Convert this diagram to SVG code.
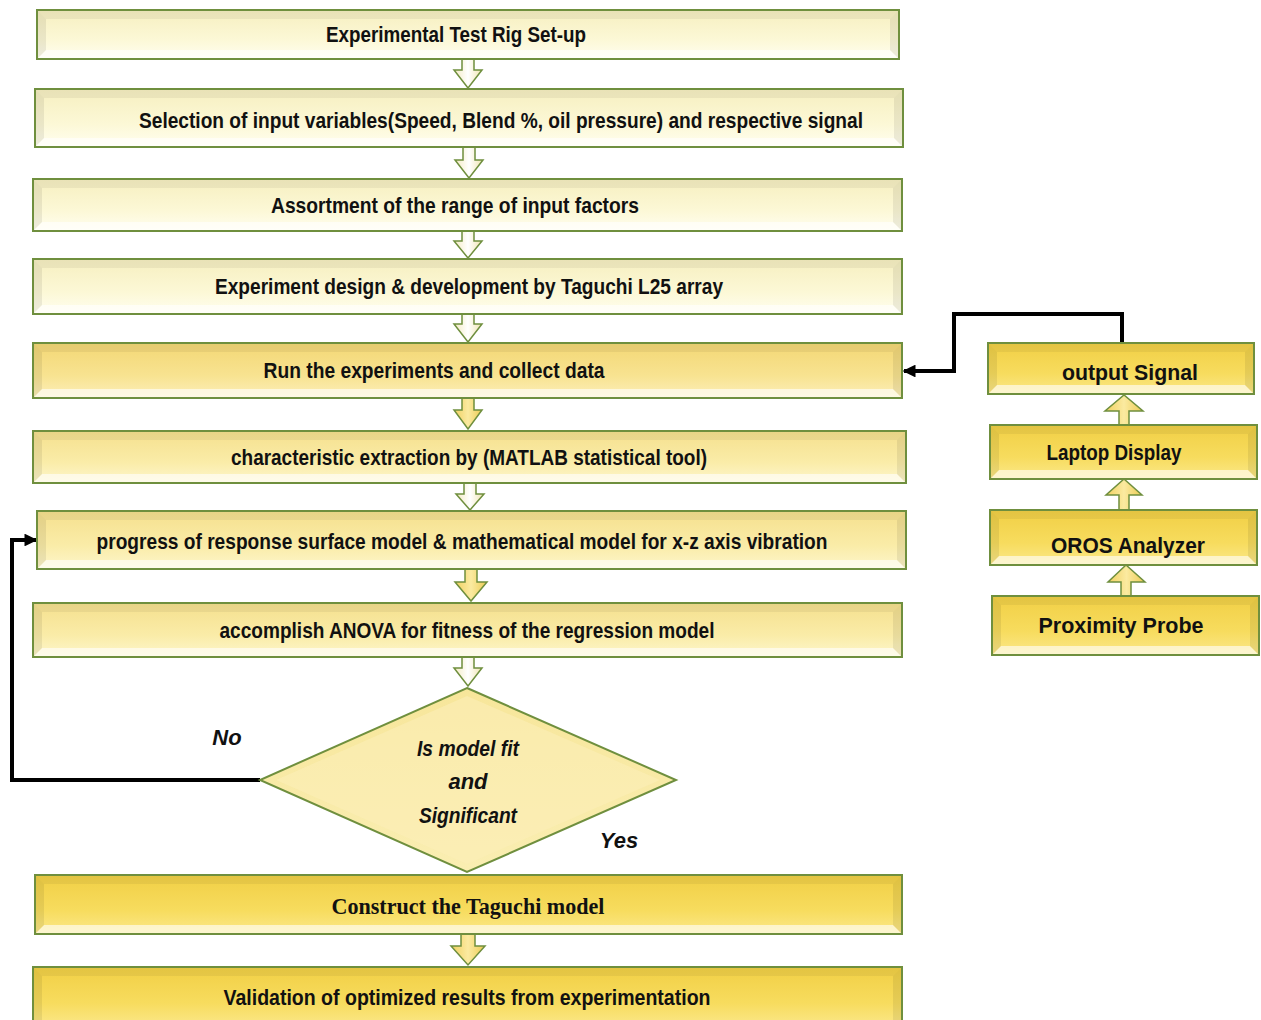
<svg xmlns="http://www.w3.org/2000/svg" width="1261" height="1020" viewBox="0 0 1261 1020">
<defs>
<linearGradient id="gPale" x1="0" y1="0" x2="0" y2="1"><stop offset="0" stop-color="#f6efc0"/><stop offset="0.6" stop-color="#fcf8d6"/><stop offset="1" stop-color="#fffef0"/></linearGradient>
<linearGradient id="gMed" x1="0" y1="0" x2="0" y2="1"><stop offset="0" stop-color="#f5e08e"/><stop offset="0.6" stop-color="#faeca8"/><stop offset="1" stop-color="#fdf6cc"/></linearGradient>
<linearGradient id="gRun" x1="0" y1="0" x2="0" y2="1"><stop offset="0" stop-color="#f3d775"/><stop offset="0.6" stop-color="#f8e391"/><stop offset="1" stop-color="#fcefba"/></linearGradient>
<linearGradient id="gGold" x1="0" y1="0" x2="0" y2="1"><stop offset="0" stop-color="#f1cf45"/><stop offset="0.6" stop-color="#f7dc5e"/><stop offset="1" stop-color="#fbe88a"/></linearGradient>
<linearGradient id="gDia" x1="0" y1="0" x2="0" y2="1"><stop offset="0" stop-color="#f7e69a"/><stop offset="1" stop-color="#faeeb2"/></linearGradient>
<linearGradient id="gArrP" x1="0" y1="0" x2="1" y2="0"><stop offset="0" stop-color="#f3eac0"/><stop offset="0.5" stop-color="#ffffff"/><stop offset="1" stop-color="#f0e4b0"/></linearGradient>
<linearGradient id="gArrG" x1="0" y1="0" x2="1" y2="0"><stop offset="0" stop-color="#f0d060"/><stop offset="0.5" stop-color="#fbeaa0"/><stop offset="1" stop-color="#eccb55"/></linearGradient>
<marker id="ah" viewBox="0 0 10 10" refX="9" refY="5" markerWidth="3.2" markerHeight="3.2" orient="auto" markerUnits="strokeWidth"><path d="M0,0 L10,5 L0,10 z" fill="#000"/></marker>
</defs>
<style>
.box{stroke:#6f8f3e;stroke-width:2}
.bt{fill:#000;opacity:0.05}
.bb{fill:#fff;opacity:0.6}
.bs{fill:#000;opacity:0.07}
.t{font-family:"Liberation Sans Narrow","Liberation Sans",Arial,sans-serif;font-weight:bold;font-size:22px;fill:#111;text-anchor:middle}
.ts{font-family:"Liberation Serif","Times New Roman",serif;font-weight:bold;font-size:24px;fill:#111;text-anchor:middle}
.ti{font-family:"Liberation Sans Narrow","Liberation Sans",Arial,sans-serif;font-weight:bold;font-style:italic;font-size:22px;fill:#111;text-anchor:middle}
.arr{stroke:#6f8f3e;stroke-width:1.5}
.conn{fill:none;stroke:#000;stroke-width:4}
</style>
<rect width="1261" height="1020" fill="#fff"/>

<g id="connectors">
<path class="arr" fill="url(#gArrP)" d="M462,59 H474 V70 H482 L468,88 L454,70 H462 Z"/>
<path class="arr" fill="url(#gArrP)" d="M463,147 H475 V160 H483 L469,178 L455,160 H463 Z"/>
<path class="arr" fill="url(#gArrP)" d="M462,231 H474 V241 H482 L468,258 L454,241 H462 Z"/>
<path class="arr" fill="url(#gArrP)" d="M462,314 H474 V324 H482 L468,342 L454,324 H462 Z"/>
<path class="arr" fill="url(#gArrG)" d="M462,398 H474 V410 H482 L468,429 L454,410 H462 Z"/>
<path class="arr" fill="url(#gArrP)" d="M464,483 H476 V494 H484 L470,510 L456,494 H464 Z"/>
<path class="arr" fill="url(#gArrG)" d="M465,569 H477 V582 H487 L471,601 L455,582 H465 Z"/>
<path class="arr" fill="url(#gArrP)" d="M462,657 H474 V668 H482 L468,686 L454,668 H462 Z"/>
<path class="arr" fill="url(#gArrG)" d="M461,934 H475 V946 H485 L468,965 L451,946 H461 Z"/>
<path class="arr" fill="url(#gArrG)" d="M1119,425 V411 H1105 L1124,395 L1143,411 H1129 V425 Z"/>
<path class="arr" fill="url(#gArrG)" d="M1119,510 V495 H1106 L1124,479 L1142,495 H1129 V510 Z"/>
<path class="arr" fill="url(#gArrG)" d="M1121,596 V582 H1108 L1126,565 L1145,582 H1131 V596 Z"/>
<path class="conn" d="M1122,343 V314 H954 V371 H904" marker-end="url(#ah)"/>
<path class="conn" d="M260,780 H12 V540 H36" marker-end="url(#ah)"/>
</g>

<g id="n1">
<rect class="box" x="37" y="10" width="862" height="49" fill="url(#gPale)"/>
<polygon class="bt" points="38,11 898,11 890,19 46,19"/><polygon class="bb" points="38,58 898,58 890,50 46,50"/><polygon class="bs" points="38,11 46,19 46,50 38,58"/><polygon class="bs" points="898,11 890,19 890,50 898,58"/>
<text class="t" x="456" y="42" textLength="260" lengthAdjust="spacingAndGlyphs">Experimental Test Rig Set-up</text>
</g>
<g id="n2">
<rect class="box" x="35" y="89" width="868" height="58" fill="url(#gPale)"/>
<polygon class="bt" points="36,90 902,90 894,98 44,98"/><polygon class="bb" points="36,146 902,146 894,138 44,138"/><polygon class="bs" points="36,90 44,98 44,138 36,146"/><polygon class="bs" points="902,90 894,98 894,138 902,146"/>
<text class="t" x="501" y="128" textLength="724" lengthAdjust="spacingAndGlyphs">Selection of input variables(Speed, Blend %, oil pressure) and respective  signal</text>
</g>
<g id="n3">
<rect class="box" x="33" y="179" width="869" height="52" fill="url(#gPale)"/>
<polygon class="bt" points="34,180 901,180 893,188 42,188"/><polygon class="bb" points="34,230 901,230 893,222 42,222"/><polygon class="bs" points="34,180 42,188 42,222 34,230"/><polygon class="bs" points="901,180 893,188 893,222 901,230"/>
<text class="t" x="455" y="213" textLength="368" lengthAdjust="spacingAndGlyphs">Assortment of the range of input factors</text>
</g>
<g id="n4">
<rect class="box" x="33" y="259" width="869" height="55" fill="url(#gPale)"/>
<polygon class="bt" points="34,260 901,260 893,268 42,268"/><polygon class="bb" points="34,313 901,313 893,305 42,305"/><polygon class="bs" points="34,260 42,268 42,305 34,313"/><polygon class="bs" points="901,260 893,268 893,305 901,313"/>
<text class="t" x="469" y="294" textLength="508" lengthAdjust="spacingAndGlyphs">Experiment design &amp; development by Taguchi L25 array</text>
</g>
<g id="n5">
<rect class="box" x="33" y="343" width="869" height="55" fill="url(#gRun)"/>
<polygon class="bt" points="34,344 901,344 893,352 42,352"/><polygon class="bb" points="34,397 901,397 893,389 42,389"/><polygon class="bs" points="34,344 42,352 42,389 34,397"/><polygon class="bs" points="901,344 893,352 893,389 901,397"/>
<text class="t" x="434" y="378" textLength="341" lengthAdjust="spacingAndGlyphs">Run the experiments and collect data</text>
</g>
<g id="n6">
<rect class="box" x="33" y="431" width="873" height="52" fill="url(#gMed)"/>
<polygon class="bt" points="34,432 905,432 897,440 42,440"/><polygon class="bb" points="34,482 905,482 897,474 42,474"/><polygon class="bs" points="34,432 42,440 42,474 34,482"/><polygon class="bs" points="905,432 897,440 897,474 905,482"/>
<text class="t" x="469" y="465" textLength="476" lengthAdjust="spacingAndGlyphs">characteristic extraction by (MATLAB statistical tool)</text>
</g>
<g id="n7">
<rect class="box" x="37" y="511" width="869" height="58" fill="url(#gMed)"/>
<polygon class="bt" points="38,512 905,512 897,520 46,520"/><polygon class="bb" points="38,568 905,568 897,560 46,560"/><polygon class="bs" points="38,512 46,520 46,560 38,568"/><polygon class="bs" points="905,512 897,520 897,560 905,568"/>
<text class="t" x="462" y="549" textLength="731" lengthAdjust="spacingAndGlyphs">progress of response surface model &amp; mathematical model for x-z axis vibration</text>
</g>
<g id="n8">
<rect class="box" x="33" y="603" width="869" height="54" fill="url(#gMed)"/>
<polygon class="bt" points="34,604 901,604 893,612 42,612"/><polygon class="bb" points="34,656 901,656 893,648 42,648"/><polygon class="bs" points="34,604 42,612 42,648 34,656"/><polygon class="bs" points="901,604 893,612 893,648 901,656"/>
<text class="t" x="467" y="638" textLength="495" lengthAdjust="spacingAndGlyphs">accomplish ANOVA for fitness of the regression model</text>
</g>
<g id="decision">
<polygon class="box" points="467,688 676,780 467,872 260,780" fill="url(#gDia)"/>
<polygon points="467,696 660,780 467,864 276,780" fill="#fbefb8" opacity="0.6"/>
<text class="ti" x="468" y="756" textLength="102" lengthAdjust="spacingAndGlyphs">Is model fit</text>
<text class="ti" x="468" y="789">and</text>
<text class="ti" x="468" y="823" textLength="98" lengthAdjust="spacingAndGlyphs">Significant</text>
</g>
<text class="ti" x="227" y="745">No</text>
<text class="ti" x="619" y="848">Yes</text>
<g id="n9">
<rect class="box" x="35" y="875" width="867" height="59" fill="url(#gGold)"/>
<polygon class="bt" points="36,876 901,876 893,884 44,884"/><polygon class="bb" points="36,933 901,933 893,925 44,925"/><polygon class="bs" points="36,876 44,884 44,925 36,933"/><polygon class="bs" points="901,876 893,884 893,925 901,933"/>
<text class="ts" x="468" y="914" textLength="273" lengthAdjust="spacingAndGlyphs">Construct the Taguchi model</text>
</g>
<g id="n10">
<rect class="box" x="33" y="967" width="869" height="60" fill="url(#gGold)"/>
<polygon class="bt" points="34,968 901,968 893,976 42,976"/><polygon class="bs" points="34,968 42,976 42,1027 34,1027"/><polygon class="bs" points="901,968 893,976 893,1027 901,1027"/>
<text class="t" x="467" y="1005" textLength="487" lengthAdjust="spacingAndGlyphs">Validation of optimized results from experimentation</text>
</g>

<g id="r1">
<rect class="box" x="988" y="343" width="266" height="51" fill="url(#gGold)"/>
<polygon class="bt" points="989,344 1253,344 1245,352 997,352"/><polygon class="bb" points="989,393 1253,393 1245,385 997,385"/><polygon class="bs" points="989,344 997,352 997,385 989,393"/><polygon class="bs" points="1253,344 1245,352 1245,385 1253,393"/>
<text class="t" x="1130" y="380" font-size="27" textLength="136" lengthAdjust="spacingAndGlyphs">output Signal</text>
</g>
<g id="r2">
<rect class="box" x="990" y="425" width="267" height="54" fill="url(#gGold)"/>
<polygon class="bt" points="991,426 1256,426 1248,434 999,434"/><polygon class="bb" points="991,478 1256,478 1248,470 999,470"/><polygon class="bs" points="991,426 999,434 999,470 991,478"/><polygon class="bs" points="1256,426 1248,434 1248,470 1256,478"/>
<text class="t" x="1114" y="460" textLength="135" lengthAdjust="spacingAndGlyphs">Laptop Display</text>
</g>
<g id="r3">
<rect class="box" x="990" y="510" width="267" height="55" fill="url(#gGold)"/>
<polygon class="bt" points="991,511 1256,511 1248,519 999,519"/><polygon class="bb" points="991,564 1256,564 1248,556 999,556"/><polygon class="bs" points="991,511 999,519 999,556 991,564"/><polygon class="bs" points="1256,511 1248,519 1248,556 1256,564"/>
<text class="t" x="1128" y="553" font-size="27" textLength="154" lengthAdjust="spacingAndGlyphs">OROS Analyzer</text>
</g>
<g id="r4">
<rect class="box" x="992" y="596" width="267" height="59" fill="url(#gGold)"/>
<polygon class="bt" points="993,597 1258,597 1250,605 1001,605"/><polygon class="bb" points="993,654 1258,654 1250,646 1001,646"/><polygon class="bs" points="993,597 1001,605 1001,646 993,654"/><polygon class="bs" points="1258,597 1250,605 1250,646 1258,654"/>
<text class="t" x="1121" y="633" font-size="27" textLength="165" lengthAdjust="spacingAndGlyphs">Proximity Probe</text>
</g>
</svg>
